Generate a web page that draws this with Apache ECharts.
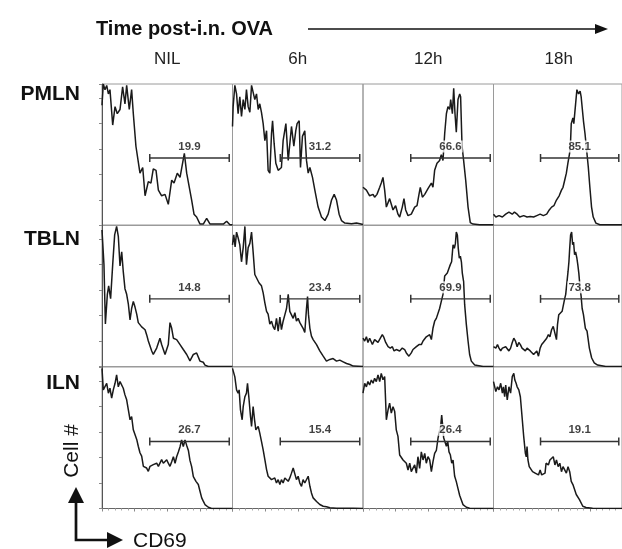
<!DOCTYPE html>
<html>
<head>
<meta charset="utf-8">
<style>
    html, body { margin: 0; padding: 0; background: #fff; }
    #chart { width: 622px; height: 549px; }
</style>
<script src="https://cdn.jsdelivr.net/npm/echarts@6/dist/echarts.min.js"></script>
</head>
<body>
<div id="chart"></div>
<script>
var rowNames = ['PMLN', 'TBLN', 'ILN'];
var colNames = ['NIL', '6h', '12h', '18h'];

// % of cells inside the CD69+ gate
var gatePercent = [
    ['19.9', '31.2', '66.6', '85.1'],
    ['14.8', '23.4', '69.9', '73.8'],
    ['26.7', '15.4', '26.4', '19.1']
];
var gateFrom = 36.6;
var gateTo = 97.5;
var gateLevel = [47.7, 47.8, 47.4];

// histograms: [CD69 channel (0-100), cell count (% of max)]
var pmlnNil = [[0,85],[0.5,85],[1,100],[2.3,96],[3.6,99],[4.9,93],[6.1,96],[8.2,71],[10,84],[11.7,79],[13.8,82],[15.8,98],[17.6,86],[18.9,99],[20.9,82],[22.7,96],[24,79],[26,56],[29.1,37],[31.2,41],[33,21],[35.5,31],[37.5,30],[39.3,40],[41.4,39],[43.2,25],[45.7,21],[48.3,22],[50.8,15],[53.4,32],[55.2,30],[57.7,37],[59.8,34],[63.1,51],[64.9,37],[66.9,27],[68.7,18],[70.5,8],[72.5,6],[75.1,1],[77.6,1],[80.2,5],[82.8,1],[93,1],[95.5,3],[98,0.5],[100,0.5]];
var pmln6h = [[0,70],[0.5,84],[1.8,99],[3.1,93],[4.3,79],[5.6,91],[6.9,77],[8.2,89],[9.5,82],[10.7,96],[12,84],[13.3,80],[14.6,99],[15.8,98],[17.1,89],[18.4,93],[19.7,82],[20.9,86],[22.2,80],[23.5,72],[24.8,60],[26.1,67],[27.3,39],[28.6,37],[29.9,65],[30.7,74],[31.9,58],[33.2,44],[35,39],[37.5,41],[38.8,60],[40.9,72],[42.7,46],[43.9,46],[45.2,70],[47,56],[48.5,67],[49.5,72],[51.1,74],[52.1,41],[53.6,63],[55.4,67],[56.7,46],[58,37],[59.3,41],[61.3,34],[63.1,25],[65.6,13],[68.2,6],[70.8,3.5],[73.3,8],[75.9,18],[77.9,22],[79.7,18],[81.7,8],[83.5,3.5],[86.1,1.7],[91.2,1.2],[95,1.7],[97.6,1.2],[100,0.7]];
var pmln12h = [[0,27],[2.6,25],[5.1,21],[7.7,22],[8.9,20],[10.7,22],[12.8,27],[14,30],[15.3,34],[16.6,25],[17.9,13],[20.4,19],[21.7,15],[23,11],[25,14],[26.8,8],[28.1,6],[30.1,13],[31.4,19],[32.7,11],[34.5,7],[37,8],[39.6,13],[41.4,14],[42.9,22],[43.9,27],[45.5,20],[47.3,22],[49.8,26],[51.1,25],[52.4,30],[53.6,27],[54.9,39],[56.7,44],[58.7,46],[60,50],[61.3,46],[62.6,65],[63.9,79],[65.1,84],[66.4,82],[67.2,89],[68.5,79],[69.5,97],[70.5,79],[71.5,66],[72.8,89],[74.1,93],[74.8,91],[75.9,56],[77.1,46],[78.7,32],[80.5,13],[82.2,2],[84.3,1],[89.4,0.5],[100,0.5]];
var pmln18h = [[0,8],[0.5,8],[1.8,6],[4.3,7],[6.9,6],[9.5,8],[12,9.5],[14.6,8],[16.3,9.5],[18.4,8],[20.4,6],[23.5,7],[26.1,6],[28.6,6.4],[31.2,6],[33.7,7],[36.3,8],[38.8,7],[41.4,8],[43.4,11],[45.2,13],[47,14],[49,18],[51.1,21],[52.9,25],[54.1,27],[55.4,32],[56.7,37],[57.9,44],[59.2,51],[60,60],[60.5,72],[61.8,76],[62.5,72],[63.9,86],[64.9,96],[66.2,93],[67.4,95],[68.2,91],[70,74],[71.2,65],[72.5,53],[73.8,41],[75,27],[76.3,13],[77.6,6],[79.7,1.7],[82.8,0.5],[100,0.5]];

var tblnNil = [[0,96.5],[0.5,96.5],[1.5,72],[2.6,30],[4.1,51],[5.1,57],[6.6,48],[8.2,72],[9.7,93],[11.2,99],[12.5,92],[13.8,71],[15.1,81],[16.3,67],[17.6,55],[18.9,51],[20.2,44],[21.5,33],[22.7,41],[24,46],[25.3,42],[26.6,37],[27.8,31],[30.4,28],[33,26],[34.2,22.5],[35.5,18],[38.1,11],[39.3,8.5],[41.9,13],[44.4,20],[45.7,15.5],[48.3,8.5],[50.8,15.5],[52.1,31],[53.4,27],[54.7,20],[57.2,19],[59.8,15.5],[62.3,12],[64.9,8.5],[67.4,4],[70,8.5],[72.5,9.6],[75.1,3.8],[77.6,3],[78.9,1],[81.5,0],[100,0]];
var tbln6h = [[0,86],[0.5,86],[1,93],[2,84.5],[3.1,95],[4.3,91],[5.6,86],[6.9,74],[8.2,84],[9.5,99],[10.7,72],[12,84],[13.3,87],[14.6,95],[15.8,81],[17.1,65],[18.4,66],[20.4,59],[22.2,57],[23.5,52],[24.8,45],[26.1,39],[27.3,37],[28.6,30],[29.9,32],[31.2,28],[32.4,26],[33.7,34],[35,25],[36.3,35],[37.5,26],[38.8,32],[40.1,36.5],[41.4,41],[42.7,51],[43.9,39],[45.2,40],[46.5,34],[47.8,38],[49,32],[50.3,34],[51.6,31],[52.9,32],[54.1,27],[55.4,24],[56.7,41],[57.5,49.5],[58.2,37],[59.3,27],[60.5,21.5],[61.8,19],[63.1,20],[64.4,15.5],[66.9,11],[69.5,7.3],[72,3.8],[74.6,5],[77.1,5.6],[79.7,3.8],[82.2,4.5],[84.8,3.3],[87.4,2.1],[89.9,1.4],[92.5,0.3],[100,0]];
var tbln12h = [[0,20],[1.3,18],[2.6,21],[3.8,17],[5.1,20],[7.2,15.5],[8.9,19],[10.2,20],[11.5,17],[13.3,20],[14.8,22.5],[15.8,21],[17.4,17],[19.2,14],[20.9,13],[22.5,14],[23.8,11],[25.5,12],[26.8,13],[28.1,11],[30.1,13],[31.9,12],[33.2,9.6],[35.2,7.3],[37,9.6],[38.3,12],[39.6,13],[40.9,14],[42.9,15.5],[44.7,15.5],[46,18],[47.3,19],[48.5,21],[49.8,20],[51.1,22.5],[52.4,19],[53.6,27],[54.9,32],[56.2,34],[57.5,35],[58.7,41],[60,46],[61.3,51],[62.6,64],[63.3,65],[64.6,66],[65.9,69.5],[66.9,72],[67.9,74],[69,86],[70,83.5],[70.8,87],[71.5,95],[72.3,93],[73,83.5],[73.8,76.5],[74.6,78],[75.4,74],[76.1,66],[77.1,60],[77.9,43.7],[79.2,29.6],[80.5,18],[81.7,8.5],[83,3.8],[85.6,1],[92,0],[100,0]];
var tbln18h = [[0,14],[0.5,14],[1.8,13],[3.1,15.5],[4.3,13],[5.6,11],[6.9,13],[8.2,12],[9.5,14],[10.7,13],[12,11],[13.3,13],[14.6,17],[15.8,20],[17.1,18],[18.4,14],[19.7,17],[20.9,15.5],[22.2,13],[23.5,14],[24.8,11],[26.1,13],[27.3,12],[28.6,11],[29.9,12],[31.2,8.5],[32.4,9.6],[33.7,11],[35,7.3],[36.3,13],[37.5,15.5],[38.8,17],[40.1,18],[41.4,20],[42.7,22.5],[43.9,21],[45.2,26],[46.5,28.4],[47.8,27],[49,19],[49.8,29.6],[50.8,36.6],[52.1,37.8],[53.4,39],[54.7,39],[55.4,48],[56.2,51],[57.2,60],[58,67],[58.7,74],[59.3,83.5],[60,93],[60.8,95],[61.6,86],[62.3,88],[63.1,79],[63.9,81],[64.9,76.5],[65.6,72],[66.4,66],[67.4,55.4],[68.2,49.5],[69,41],[70,36.6],[71.5,27],[72.8,25],[74.6,13],[76.4,6],[78.4,2.6],[81,1],[87.4,0],[100,0]];

var ilnNil = [[0,99],[0.5,99],[1,83.8],[2.3,84.7],[3.6,88.5],[4.9,81.5],[6.1,85],[7.4,78],[8.7,84],[10,88.5],[11.2,94.4],[12.5,86],[13.8,89.7],[15.1,88.5],[16.3,85],[17.6,80.3],[18.9,76.8],[20.2,69.7],[21.5,62.7],[22.7,65],[24,55.6],[25.3,56.8],[26.6,48.8],[27.8,44],[29.1,39.4],[30.4,37],[31.7,29.8],[33,31],[34.2,28.6],[35.5,26.3],[36.8,29.8],[38.1,28.6],[39.3,31],[40.6,29.8],[41.9,32],[43.2,29.8],[44.4,31],[45.7,34.5],[47,32],[48.3,31],[49.6,34.5],[50.8,32],[52.1,29.8],[53.4,33],[54.7,36.6],[56,32],[57.2,36.6],[58.5,40],[59.8,43.7],[61,48.4],[62.3,43.7],[63.6,48.4],[64.9,44.6],[66.2,41],[67.4,34],[68.7,29.6],[70,22.5],[72,19.2],[73.8,17],[75.1,12.2],[76.4,7.5],[77.6,5.2],[78.9,2.8],[81.5,0.9],[84,0],[100,0]];
var iln6h = [[0,99],[0.5,99],[1.8,93],[3.1,83.8],[4.3,81.5],[5.1,83.8],[6.1,69.7],[7.4,62.7],[8.2,72],[9.5,79],[10.7,81.5],[11.5,88.5],[12.5,79],[13.8,65],[14.6,58],[15.8,72],[16.9,62.7],[17.9,55.6],[19.7,58],[20.9,53.3],[22.2,47.4],[23.5,41.5],[24.8,34.5],[26.1,27.5],[27.3,22.8],[28.6,21.6],[29.9,20.4],[31.2,19.2],[32.4,21.6],[33.7,18],[35,20.4],[36.3,16.9],[37.5,20.4],[38.8,18],[40.1,21.6],[41.4,20.4],[42.7,19.2],[43.9,21.6],[45.2,25],[46.5,28.6],[47.8,27.5],[49,20.4],[50.3,22.8],[51.6,18],[52.9,15.7],[54.1,20.4],[55.4,18],[56.7,19.2],[58,22.8],[59.3,15.7],[60.5,11],[61.8,7.5],[64.4,5],[66.9,2.8],[69.5,1.6],[72,1.2],[74.6,0.5],[79.7,0.2],[92.5,0.2],[100,0]];
var iln12h = [[0,81.5],[0.5,81.5],[1.3,88.5],[2.6,86],[3.8,89.7],[5.1,87.3],[6.4,90.8],[7.7,88.5],[8.9,92],[10.2,89.7],[11.5,94.4],[12.8,89.7],[14,95.5],[15.3,91],[16.6,93.2],[17.9,62.7],[19.2,69.7],[20.4,74.4],[21.7,67.4],[23,72],[24.3,68.5],[25.5,55.6],[26.8,51],[28.1,37.8],[29.4,36.6],[30.7,34.3],[31.9,33],[33.2,32],[34.5,27.2],[35.8,32],[37,26],[38.3,25],[39.6,30.8],[40.9,25],[42.1,36.6],[43.4,28.4],[44.7,40],[46,34.3],[47.3,39],[48.5,32],[49.8,36.6],[51.1,34.3],[52.4,26],[53.6,33],[54.9,38.9],[56.2,41],[57.5,49.8],[58.7,51],[59.5,58],[60.3,66],[61.1,58],[61.8,50],[62.8,50.5],[63.9,44],[64.9,47.6],[65.9,40],[66.9,38],[68,32],[69,34.3],[70.2,23],[71.5,19],[72.8,14],[74.1,9.2],[76.6,2.8],[79.2,0.9],[81.7,0.2],[86.8,0],[100,0]];
var iln18h = [[0,89.7],[0.5,89.7],[1.8,82.6],[3.1,86],[4.3,83.8],[5.6,88.5],[6.9,81.5],[7.7,86],[8.7,79],[9.5,87.3],[10.7,76.8],[12,86],[13.3,81.5],[14.6,93.2],[15.8,95.5],[16.6,90.8],[17.6,88.5],[18.4,86],[19.7,83.8],[20.9,79],[22.2,65],[23.5,51],[24.8,39],[25.5,36.6],[26.1,43.7],[26.8,34.3],[27.8,29.6],[29.1,28.4],[30.4,26],[31.2,27.2],[32.4,25],[33.7,26],[35,23.7],[36.3,27.2],[37.5,23.7],[38.8,22.5],[40.1,25],[40.9,32],[41.9,33],[42.7,30.8],[43.9,34.3],[45.2,35.4],[46.5,36.6],[47.8,30.8],[49,34.3],[50.3,29.6],[51.6,32],[52.9,26],[54.1,29.6],[55.4,30.8],[56.7,25],[58,29.6],[59.3,26],[60.5,19.2],[61.8,16.9],[63.1,13.4],[64.4,9.9],[66.9,6.3],[69.5,1.6],[72,0.7],[77.1,0.2],[100,0]];

var histograms = [
    [pmlnNil, pmln6h, pmln12h, pmln18h],
    [tblnNil, tbln6h, tbln12h, tbln18h],
    [ilnNil, iln6h, iln12h, iln18h]
];

var colLeft = [102, 232.5, 363, 493.5];
var rowTop = [84, 225, 367];
var cellW = 130.5;
var cellH = 141.5;
var fontName = '"Liberation Sans", Arial, sans-serif';

var chart = echarts.init(document.getElementById('chart'));

var grids = [], xAxes = [], yAxes = [], series = [];

for (var r = 0; r < 3; r++) {
    for (var c = 0; c < 4; c++) {
        var idx = grids.length;
        grids.push({
            left: colLeft[c], top: rowTop[r], width: cellW, height: cellH,
            show: true, borderColor: '#9a9a9a', borderWidth: 1
        });
        xAxes.push({
            gridIndex: idx, type: 'value', min: 0, max: 100, interval: 25,
            axisLine: {show: r === 2, lineStyle: {color: '#666'}},
            axisTick: {show: r === 2, length: 3, lineStyle: {color: '#888'}},
            minorTick: {show: r === 2, splitNumber: 5, length: 2, lineStyle: {color: '#aaa'}},
            axisLabel: {show: false}, splitLine: {show: false}
        });
        yAxes.push({
            gridIndex: idx, type: 'value', min: 0, max: 100, interval: 18,
            axisLine: {show: c === 0, lineStyle: {color: '#555'}},
            axisTick: {show: c === 0, length: 3, lineStyle: {color: '#888'}},
            axisLabel: {show: false}, splitLine: {show: false}
        });
        series.push({
            type: 'line', xAxisIndex: idx, yAxisIndex: idx,
            data: histograms[r][c], showSymbol: false, silent: true,
            lineStyle: {color: '#1a1a1a', width: 1.5}, z: 2
        });
        series.push({
            type: 'line', xAxisIndex: idx, yAxisIndex: idx,
            data: [[gateFrom, gateLevel[r]], [gateTo, gateLevel[r]]],
            symbol: 'rect', symbolSize: [1.5, 8], showSymbol: true, silent: true,
            itemStyle: {color: '#333'},
            lineStyle: {color: '#333', width: 1.4}, z: 3
        });
        series.push({
            type: 'scatter', xAxisIndex: idx, yAxisIndex: idx,
            data: [[(gateFrom + gateTo) / 2, gateLevel[r]]],
            symbolSize: 1, itemStyle: {color: 'transparent'}, silent: true,
            label: {
                show: true, position: 'top', distance: 5,
                formatter: gatePercent[r][c],
                fontFamily: fontName, fontSize: 11.5, fontWeight: 'bold', color: '#111',
                backgroundColor: '#fff', padding: [0, 1]
            },
            z: 5
        });
    }
}

var graphics = [];
graphics.push({
    type: 'text', x: 96, y: 29,
    style: {text: 'Time post-i.n. OVA', font: 'bold 20px ' + fontName, fill: '#111',
        textAlign: 'left', textVerticalAlign: 'middle', align: 'left', verticalAlign: 'middle'}
});
graphics.push({
    type: 'line', shape: {x1: 308, y1: 29, x2: 598, y2: 29},
    style: {stroke: '#111', lineWidth: 1.6}
});
graphics.push({
    type: 'polygon', shape: {points: [[608, 29], [595, 24], [595, 34]]},
    style: {fill: '#111'}
});
colNames.forEach(function (name, c) {
    graphics.push({
        type: 'text', x: colLeft[c] + cellW / 2, y: 59,
        style: {text: name, font: '17px ' + fontName, fill: '#222',
            textAlign: 'center', textVerticalAlign: 'middle', align: 'center', verticalAlign: 'middle'}
    });
});
var rowLabelY = [94, 239, 383];
rowNames.forEach(function (name, r) {
    graphics.push({
        type: 'text', x: 80, y: rowLabelY[r],
        style: {text: name, font: 'bold 21px ' + fontName, fill: '#111',
            textAlign: 'right', textVerticalAlign: 'middle', align: 'right', verticalAlign: 'middle'}
    });
});
graphics.push({
    type: 'text', x: 72, y: 451, rotation: Math.PI / 2,
    style: {text: 'Cell #', font: '21px ' + fontName, fill: '#111',
        textAlign: 'center', textVerticalAlign: 'middle', align: 'center', verticalAlign: 'middle'}
});
graphics.push({
    type: 'polyline', shape: {points: [[76, 500], [76, 540], [110, 540]]},
    style: {stroke: '#111', lineWidth: 2.7, fill: null}
});
graphics.push({
    type: 'polygon', shape: {points: [[76, 487], [68, 503], [84, 503]]},
    style: {fill: '#111'}
});
graphics.push({
    type: 'polygon', shape: {points: [[123, 540], [107, 532], [107, 548]]},
    style: {fill: '#111'}
});
graphics.push({
    type: 'text', x: 133, y: 541,
    style: {text: 'CD69', font: '21px ' + fontName, fill: '#111',
        textAlign: 'left', textVerticalAlign: 'middle', align: 'left', verticalAlign: 'middle'}
});

chart.setOption({
    animation: false,
    backgroundColor: '#fff',
    grid: grids,
    xAxis: xAxes,
    yAxis: yAxes,
    series: series,
    graphic: graphics
});
</script>
</body>
</html>
